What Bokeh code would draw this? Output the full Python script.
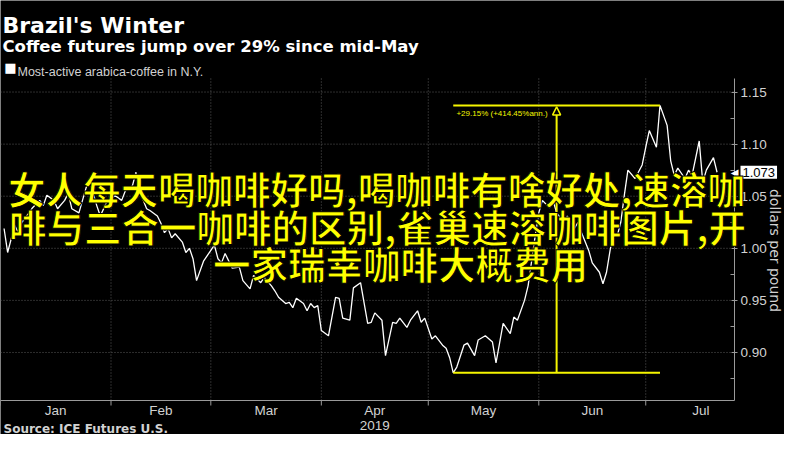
import math
from datetime import datetime
from bokeh.plotting import figure
from bokeh.models import (Range1d, FixedTicker, Label, Arrow, NormalHead,
                          PrintfTickFormatter, ColumnDataSource)
from bokeh.embed import file_html
from bokeh.resources import INLINE

# ---------------- texts ----------------
title_text = "Brazil's Winter"
subtitle_text = "Coffee futures jump over 29% since mid-May"
series_name = "Most-active arabica-coffee in N.Y."
source_text = "Source: ICE Futures U.S."
axis_title = "dollars per pound"
year_label = "2019"
overlay_lines = ["女人每天喝咖啡好吗,喝咖啡有啥好处,速溶咖",
                 "啡与三合一咖啡的区别,雀巢速溶咖啡图片,开",
                 "一家瑞幸咖啡大概费用"]

# ---------------- axes ----------------
month_labels = ["Jan", "Feb", "Mar", "Apr", "May", "Jun", "Jul"]
month_starts = ["2019-01-01", "2019-02-01", "2019-03-01", "2019-04-01",
                "2019-05-01", "2019-06-01", "2019-07-01", "2019-08-01"]
y_ticks = [0.90, 0.95, 1.00, 1.05, 1.10, 1.15]
y_minor = [0.875, 0.925, 0.975, 1.025, 1.075, 1.125]

# ---------------- series (dollars per pound) ----------------
days_jan = [2, 3, 5, 6, 7, 9, 10, 12, 13, 14, 16, 17, 19, 20, 21, 23, 25, 26, 28, 29, 31]
price_jan = [1.019, 0.996, 1.022, 1.015, 1.025, 1.034, 1.039, 1.046, 1.041, 1.051, 1.046,
             1.038, 1.046, 1.053, 1.038, 1.034, 1.058, 1.065, 1.041, 1.031, 1.046]
days_feb = [1, 2, 4, 5, 7, 8, 9, 11, 12, 14, 15, 16, 17, 18, 19, 21, 22, 23, 24, 25, 27, 28]
price_feb = [1.046, 1.051, 1.046, 1.055, 1.060, 1.073, 1.055, 1.038, 1.036, 1.031, 1.024,
             1.015, 1.019, 1.010, 1.014, 1.006, 0.996, 1.000, 0.990, 0.969, 0.988, 0.993]
days_mar = [2, 3, 4, 5, 7, 9, 10, 12, 13, 15, 16, 18, 19, 20, 22, 23, 24, 25, 27, 28, 29, 30, 31]
price_mar = [1.003, 0.990, 0.986, 0.995, 0.981, 0.982, 0.969, 0.961, 0.974, 0.967, 0.972,
             0.964, 0.959, 0.953, 0.947, 0.948, 0.943, 0.952, 0.947, 0.940, 0.947, 0.943, 0.945]
days_apr = [1, 3, 5, 6, 7, 9, 10, 12, 14, 15, 16, 18, 19, 21, 22, 23, 25, 26, 28, 29, 30]
price_apr = [0.921, 0.916, 0.953, 0.952, 0.933, 0.931, 0.962, 0.967, 0.928, 0.929, 0.938,
             0.931, 0.897, 0.929, 0.928, 0.933, 0.924, 0.931, 0.940, 0.929, 0.933]
days_may = [2, 3, 5, 6, 7, 8, 9, 11, 12, 14, 15, 17, 19, 20, 21, 22, 24, 25, 26, 28, 29, 30, 31]
price_may = [0.913, 0.916, 0.907, 0.904, 0.895, 0.8805, 0.886, 0.907, 0.909, 0.897, 0.912,
             0.916, 0.910, 0.890, 0.909, 0.928, 0.918, 0.934, 0.931, 0.950, 0.964, 0.988, 1.012]
days_jun = [1, 2, 4, 5, 6, 8, 9, 11, 12, 13, 15, 16, 18, 19, 20, 21, 22, 23, 24, 25, 26, 28, 30]
price_jun = [1.034, 1.046, 1.039, 1.046, 1.034, 1.025, 1.031, 1.019, 1.025, 1.015, 0.998,
             0.986, 0.977, 0.966, 0.977, 0.998, 1.015, 1.012, 1.025, 1.051, 1.075, 1.067, 1.080]
days_jul = [1, 2, 4, 5, 7, 8, 9, 10, 12, 13, 14, 16, 17, 18, 20, 21]
price_jul = [1.097, 1.113, 1.097, 1.1372, 1.118, 1.084, 1.070, 1.077, 1.067, 1.075, 1.070,
             1.103, 1.063, 1.075, 1.087, 1.073]

# ---------------- move annotation ----------------
low_date, low_price = "2019-05-08", 0.8805
high_date, high_price = "2019-07-05", 1.1372
change_label = "+29.15% (+414.45%ann.)"

# ---------------- helpers ----------------
EPOCH = datetime(1970, 1, 1)
DAY = 86400000.0


def ms(s):
    return (datetime.strptime(s, "%Y-%m-%d") - EPOCH).total_seconds() * 1000.0


month_days = [(1, days_jan, price_jan), (2, days_feb, price_feb), (3, days_mar, price_mar),
              (4, days_apr, price_apr), (5, days_may, price_may), (6, days_jun, price_jun),
              (7, days_jul, price_jul)]
dates, prices = [], []
for m, dd, pp in month_days:
    for d, v in zip(dd, pp):
        dates.append(datetime(2019, m, d))
        prices.append(v)

# ---------------- layout (pixels) ----------------
W, H = 784, 434
BOX_L, BOX_R, BOX_T, BOX_B = 0, 734, 78, 400      # plot area inside the canvas
TICK_PX = 5
YELLOW = "#f5f500"
GRID = "#5a5a5a"
AXIS = "#9a9a9a"
TXT = "#d2d2d2"

# data extent of the plot area
X0 = ms("2019-01-01")
X1 = X0 + 205.9 * DAY
Y0, Y1 = 0.8539, 1.1630
xpp = (X1 - X0) / (BOX_R - BOX_L)
ypp = (Y1 - Y0) / (BOX_B - BOX_T)

p = figure(width=W, height=H, x_axis_type="datetime", y_axis_location="right",
           x_range=Range1d(X0 - BOX_L * xpp, X1 + (W - BOX_R) * xpp),
           y_range=Range1d(Y0 - (H - BOX_B) * ypp, Y1 + BOX_T * ypp),
           output_backend="svg", toolbar_location=None,
           min_border=0, min_border_left=0, min_border_right=0,
           min_border_top=0, min_border_bottom=0,
           background_fill_color="black", border_fill_color="black", outline_line_color=None)
p.grid.visible = False

# y axis (right, fixed at the plot-area edge)
ya = p.yaxis[0]
ya.fixed_location = X1
ya.bounds = (Y0, Y1)
ya.ticker = FixedTicker(ticks=y_ticks, minor_ticks=y_minor)
ya.formatter = PrintfTickFormatter(format="%.2f")
ya.axis_line_color = AXIS
ya.major_tick_line_color = AXIS
ya.minor_tick_line_color = AXIS
ya.major_tick_in = 3
ya.major_tick_out = 3
ya.minor_tick_in = 4
ya.minor_tick_out = 0
ya.major_label_standoff = 3
ya.major_label_text_color = TXT
ya.major_label_text_font = "Liberation Sans"
ya.major_label_text_font_size = "13.5px"

# x axis (below, fixed at the plot-area bottom); labels centred in each month
month_ms = [ms(s) for s in month_starts]
mid_ms = [(month_ms[i] + month_ms[i + 1]) / 2.0 for i in range(len(month_labels))]
overrides = {}
for i, lab in enumerate(month_labels):
    overrides[mid_ms[i]] = lab + ("\n" + year_label if lab == "Apr" else "")
xa = p.xaxis[0]
xa.fixed_location = Y0
xa.bounds = (X0, X1)
xa.ticker = FixedTicker(ticks=mid_ms, minor_ticks=[])
xa.major_label_overrides = overrides
xa.axis_line_color = AXIS
xa.major_tick_line_color = None
xa.major_tick_in = 0
xa.major_tick_out = 0
xa.minor_tick_line_color = None
xa.minor_tick_in = 0
xa.minor_tick_out = 0
xa.major_label_standoff = 2
xa.major_label_text_color = TXT
xa.major_label_text_font = "Liberation Sans"
xa.major_label_text_font_size = "13.5px"
xa.major_label_text_line_height = 1.0

# month-boundary tick marks below the x axis line
tk = month_ms[:-1]
p.segment(x0=tk, y0=[Y0] * len(tk), x1=tk, y1=[Y0 - TICK_PX * ypp] * len(tk),
          line_color=AXIS, line_width=1)

# dotted grid limited to the plot area
p.segment(x0=[X0] * len(y_ticks), y0=y_ticks, x1=[X1] * len(y_ticks), y1=y_ticks,
          line_color=GRID, line_dash="1 2", line_width=1)
vg = month_ms[1:-1]
p.segment(x0=vg, y0=[Y0] * len(vg), x1=vg, y1=[Y1] * len(vg),
          line_color=GRID, line_dash="1 2", line_width=1)

# price line
src = ColumnDataSource(dict(date=dates, price=prices))
p.line("date", "price", source=src, line_color="white", line_width=1.3)

# move bracket
lo_x, hi_x = ms(low_date), ms(high_date)
mid_x = (lo_x + hi_x) / 2.0
p.segment(x0=[lo_x, lo_x], y0=[high_price, low_price], x1=[hi_x, hi_x],
          y1=[high_price, low_price], line_color=YELLOW, line_width=2)
p.add_layout(Arrow(end=NormalHead(size=8, fill_color="black", line_color=YELLOW, line_width=1.5),
                   x_start=mid_x, y_start=low_price, x_end=mid_x, y_end=high_price - 0.0015,
                   line_color=YELLOW, line_width=2))
p.add_layout(Label(x=mid_x, y=high_price, x_offset=-9, y_offset=-8, text=change_label,
                   text_align="right", text_baseline="middle", text_color=YELLOW,
                   text_font="Liberation Sans", text_font_size="8px"))


def clabel(px, py, text, **kw):
    return Label(x=px, y=py, x_units="canvas", y_units="canvas", text=text, **kw)


# titles / legend / source
p.add_layout(clabel(2, 25, title_text, text_color="white", text_font="DejaVu Sans",
                    text_font_style="bold", text_font_size="22px", text_baseline="alphabetic"))
p.add_layout(clabel(2, 46, subtitle_text, text_color="white", text_font="DejaVu Sans",
                    text_font_style="bold", text_font_size="16.5px", text_baseline="alphabetic"))
p.add_layout(clabel(10, 67, "■", text_color="white", text_font="DejaVu Sans",
                    text_font_size="13px", text_align="center", text_baseline="middle"))
p.add_layout(clabel(17, 71, series_name, text_color=TXT, text_font="Liberation Sans",
                    text_font_size="12.5px", text_baseline="alphabetic"))
p.add_layout(clabel(3, 428, source_text, text_color=TXT, text_font="DejaVu Sans",
                    text_font_style="bold", text_font_size="12px", text_baseline="alphabetic"))

# axis title (right, reading downward)
p.add_layout(clabel(774, 250, axis_title, angle=-math.pi / 2, text_align="center",
                    text_baseline="middle", text_color=TXT, text_font="DejaVu Sans",
                    text_font_size="14px"))

# last value tag
last_val = prices[-1]
p.add_layout(Label(x=738, y=last_val, x_units="canvas", y_units="data", text="◀",
                   text_align="right", text_baseline="middle", text_color="white",
                   text_font="DejaVu Sans", text_font_size="10px"))
p.add_layout(Label(x=740, y=last_val, x_units="canvas", y_units="data",
                   text="%.3f" % last_val, text_align="left", text_baseline="middle",
                   text_color="black", text_font="Liberation Sans", text_font_size="13px",
                   background_fill_color="white", padding=2))

# overlay caption
outline = {}
if "text_outline_color" in Label.properties():
    outline = dict(text_outline_color="black")
for (cx, cy), line in zip([(376, 187), (377, 225), (400, 262)], overlay_lines):
    p.add_layout(clabel(cx, cy, line, text_align="center", text_baseline="middle",
                        text_color="#ffff00", text_font="Noto Sans CJK SC",
                        text_font_style="bold", text_font_size="37.5px", **outline))

open("out.html", "w").write(file_html(p, INLINE))
